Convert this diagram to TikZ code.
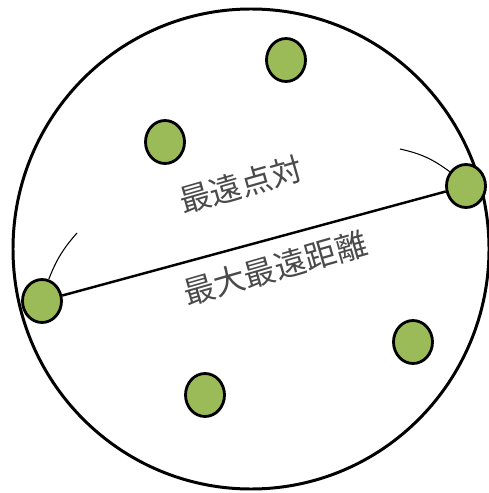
\documentclass[tikz,border=0pt]{standalone}
\usepackage{fontspec}
\newfontfamily\jpfont{Noto Sans CJK JP}
\usetikzlibrary{shapes.geometric}
\definecolor{dotgreen}{HTML}{9BBB59}
\definecolor{labelgray}{HTML}{4A4A4A}
\begin{document}
\begin{tikzpicture}[x=0.02cm, y=-0.02cm,
    pt/.style={ellipse, draw, line width=1.6pt, fill=dotgreen, inner sep=0pt,
        minimum width=0.78cm, minimum height=0.86cm},
    lbl/.style={text=labelgray, font=\jpfont\fontsize{18}{18}\selectfont, rotate=16}]
    \useasboundingbox (0,0) rectangle (488,493);

    % 1. Vòng tròn lớn
    \draw[line width=1.7pt] (251,249) circle[x radius=238, y radius=240];

    % 2. Các điểm
    \node[pt] (p1) at (286,60) {};
    \node[pt] (p2) at (165,142) {};
    \node[pt] (pR) at (466,186) {};
    \node[pt] (pL) at (42,301) {};
    \node[pt] (p5) at (413,342) {};
    \node[pt] (p6) at (205,395) {};

    % 3. Đoạn nối cặp điểm xa nhất
    \draw[line width=1.4pt] (pL) -- (pR);

    % 4. Các cung mảnh
    \coordinate (aR) at (400,149);
    \coordinate (aL) at (77,233);
    \draw[line width=0.6pt] (aR) to[bend left=12] (pR);
    \draw[line width=0.6pt] (aL) to[bend right=10] (pL);

    % 5. Nhãn
    \node[lbl] (far) at (241,185) {最遠点対};
    \node[lbl] (dist) at (275,268) {最大最遠距離};
\end{tikzpicture}
\end{document}
